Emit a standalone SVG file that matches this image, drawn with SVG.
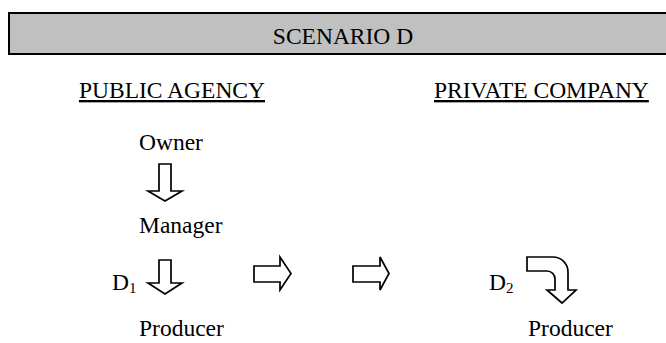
<svg xmlns="http://www.w3.org/2000/svg" width="666" height="343" viewBox="0 0 666 343">
<style>
text{font-family:"Liberation Serif","Times New Roman",serif;font-size:23.5px;fill:#000}
.u{text-decoration:underline}
.sub{font-size:15px}
.arr{fill:#fff;stroke:#000;stroke-width:1.7;stroke-linejoin:miter}
</style>
<rect x="0" y="0" width="666" height="343" fill="#fff"/>
<g id="header">
<rect x="9" y="13" width="670" height="41" fill="#c0c0c0" stroke="#000" stroke-width="2"/>
<text x="343" y="44" text-anchor="middle">SCENARIO D</text>
</g>
<g id="public-agency"><text class="u" x="265" y="98" text-anchor="end">PUBLIC AGENCY</text></g>
<g id="private-company"><text class="u" x="434" y="98">PRIVATE COMPANY</text></g>
<g id="owner"><text x="139" y="150">Owner</text></g>
<g id="manager"><text x="139" y="233">Manager</text></g>
<g id="producer-public"><text x="139" y="336">Producer</text></g>
<g id="producer-private"><text x="528" y="336">Producer</text></g>
<g id="d1"><text x="112" y="290">D<tspan class="sub" dy="3">1</tspan></text></g>
<g id="d2"><text x="489" y="290">D<tspan class="sub" dy="3">2</tspan></text></g>
<g id="connectors">
<path class="arr" d="M159,164 H171 V191 H182 L165,201 L148,191 H159 Z"/>
<path class="arr" d="M159,260 H171 V283 H182 L165,294 L148,283 H159 Z"/>
<path class="arr" d="M254,266 H280 V257 L291,273.5 L280,290 V282 H254 Z"/>
<path class="arr" d="M353,266 H380 V257 L389,273.5 L380,290 V282 H353 Z"/>
<path class="arr" d="M527,257 H553 A15,15 0 0 1 568,272 V290 H576 L562,303 L547,290 H555 V279 A8,8 0 0 0 547,271 H527 Z"/>
</g>
</svg>
